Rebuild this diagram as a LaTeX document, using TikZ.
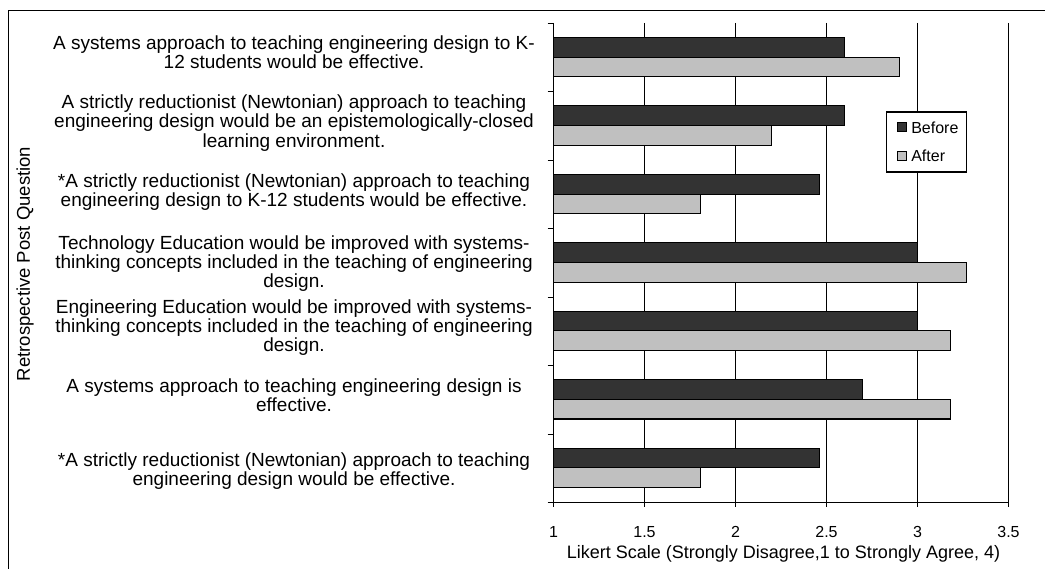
\documentclass[tikz,border=0pt]{standalone}
\usepackage{fontspec}
\setmainfont{Liberation Sans}
\usepackage{tikz}
\usetikzlibrary{positioning}
\definecolor{beforegray}{HTML}{333333}
\definecolor{aftergray}{HTML}{C0C0C0}

\begin{document}
\begin{tikzpicture}[x=1pt,y=-1pt]
			\tikzset{every node/.style={inner sep=0pt}}
			\tikzset{question/.style={align=center,font=\fontsize{19}{19.3}\selectfont}}
			\tikzset{grid line/.style={draw=black,line width=1.1pt}}
			\tikzset{before bar/.style={draw=black,line width=1.1pt,fill=beforegray}}
			\tikzset{after bar/.style={draw=black,line width=1.1pt,fill=aftergray}}
			\tikzset{tick label/.style={font=\fontsize{16}{18}\selectfont}}
			\tikzset{key/.style={draw=black,line width=0.8pt,minimum size=9pt}}
			\useasboundingbox (0,0) rectangle (1045,569);
			\draw[grid line] (8.5,569) -- (8.5,10.5) -- (1045,10.5);
			% gridlines, axes and ticks
			\foreach \v in {1,1.5,2,2.5,3,3.5}
				\draw[grid line] ({553.5+182*(\v-1)},23) -- ({553.5+182*(\v-1)},506.5);
			\draw[grid line] (547.5,502.5) -- (1008.5,502.5);
			\foreach \k in {0,...,6}
				\draw[grid line] (547.5,{23.5+68.43*\k}) -- (553.5,{23.5+68.43*\k});
			\foreach \v [count=\i] in {1,1.5,2,2.5,3,3.5}
				\node[tick label] (tick\i) at ({553.5+182*(\v-1)},532) {\v};
			% bars
			\foreach \bef/\aft [count=\k from 0] in {2.6/2.9,2.6/2.2,2.46/1.81,3/3.27,3/3.18,2.7/3.18,2.46/1.81}{
				\draw[before bar] (553.5,{23+68.43*\k+14.5}) rectangle ({553.5+182*(\bef-1)},{23+68.43*\k+34.2});
				\draw[after bar] (553.5,{23+68.43*\k+34.2}) rectangle ({553.5+182*(\aft-1)},{23+68.43*\k+53.9});
			}
			% questions
			\node[question] (q1) at (294,52) {A systems approach to teaching engineering design to K-\\12 students would be effective.};
			\node[question] (q2) at (294,123) {A strictly reductionist (Newtonian) approach to teaching\\engineering design would be an epistemologically-closed\\learning environment.};
			\node[question] (q3) at (294,192) {*A strictly reductionist (Newtonian) approach to teaching\\engineering design to K-12 students would be effective.};
			\node[question] (q4) at (294,263.5) {Technology Education would be improved with systems-\\thinking concepts included in the teaching of engineering\\design.};
			\node[question] (q5) at (294,327.5) {Engineering Education would be improved with systems-\\thinking concepts included in the teaching of engineering\\design.};
			\node[question] (q6) at (294,395) {A systems approach to teaching engineering design is\\effective.};
			\node[question] (q7) at (294,471) {*A strictly reductionist (Newtonian) approach to teaching\\engineering design would be effective.};
			% axis titles
			\node[rotate=90,font=\fontsize{18.5}{20}\selectfont] (ytitle) at (25,264) {Retrospective Post Question};
			\node[font=\fontsize{18}{20}\selectfont] (xtitle) at (783.5,554) {Likert Scale (Strongly Disagree,1 to Strongly Agree, 4)};
			% legend
			\node[draw=black,line width=1.1pt,fill=white,minimum width=80pt,minimum height=60pt] (legend) at (926.7,142) {};
			\node[key,fill=beforegray] (keybefore) at (902.2,127.3) {};
			\node[key,fill=aftergray] (keyafter) at (902.2,155.7) {};
			\node[right=4pt of keybefore,font=\fontsize{16}{18}\selectfont] (before) {Before};
			\node[right=4pt of keyafter,font=\fontsize{16}{18}\selectfont] (after) {After};
		\end{tikzpicture}
\end{document}
